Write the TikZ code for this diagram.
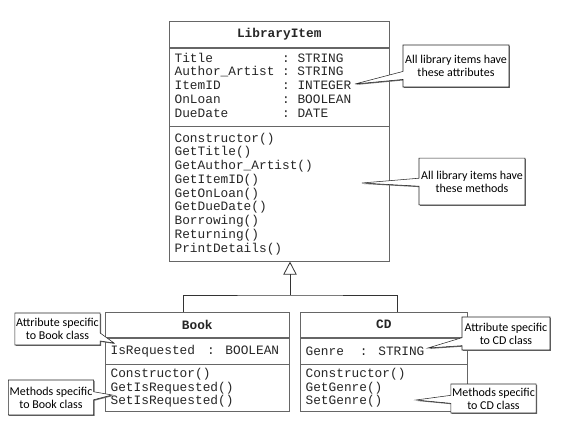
\documentclass[tikz,border=0pt]{standalone}
\usepackage{fontspec}
\setmonofont{Liberation Mono}
\newfontfamily\notefont{Carlito}
\usetikzlibrary{positioning,calc,arrows.meta,shapes.callouts,shadows}

\newcommand{\colgap}{\phantom{x}}

\begin{document}
\begin{tikzpicture}[x=0.75pt,y=-0.75pt,
  part/.style={draw=black!60,fill=white,inner xsep=4pt,inner ysep=0pt,align=left,
    text=black!85,font=\fontsize{9.6}{10.3}\selectfont\ttfamily},
  classname/.style={part,align=center,font=\fontsize{9.6}{10.3}\selectfont\ttfamily\bfseries},
  note/.style={rectangle callout,draw=black!85,fill=white,align=center,inner sep=1pt,
    callout pointer width=6pt,font=\fontsize{9}{9.8}\selectfont\notefont,
    drop shadow={shadow xshift=0.7pt,shadow yshift=-0.7pt,fill=black!60,opacity=1}},
  line/.style={draw=black!80,semithick}]
\useasboundingbox (0,0) rectangle (570,423);

% base class
\node[classname,text width=157pt,minimum height=19.5pt,anchor=north west] (itemname) at (169,21) {LibraryItem};
\node[part,text width=157pt,minimum height=58.5pt,below=0pt of itemname] (itemattr) {%
  \begin{tabular}{@{}l@{\colgap:\colgap}l@{}}
  Title & STRING\\
  Author\_Artist & STRING\\
  ItemID & INTEGER\\
  OnLoan & BOOLEAN\\
  DueDate & DATE
  \end{tabular}};
\node[part,text width=157pt,minimum height=101.25pt,below=0pt of itemattr] (itemmeth) {%
  Constructor()\\ GetTitle()\\ GetAuthor\_Artist()\\ GetItemID()\\ GetOnLoan()\\
  GetDueDate()\\ Borrowing()\\ Returning()\\ PrintDetails()};

% sub classes
\node[classname,text width=130pt,minimum height=18.75pt,anchor=north west] (bookname) at (105,312) {Book};
\node[part,text width=130pt,minimum height=19.5pt,below=0pt of bookname] (bookattr) {\mbox{IsRequested\hspace{9pt}:\hspace{8pt}BOOLEAN}};
\node[part,text width=130pt,minimum height=35.25pt,below=0pt of bookattr] (bookmeth) {%
  Constructor()\\ GetIsRequested()\\ SetIsRequested()};

\node[classname,text width=117.25pt,minimum height=18.75pt,anchor=north west] (cdname) at (300,312) {CD};
\node[part,text width=117.25pt,minimum height=19.5pt,below=0pt of cdname] (cdattr) {\mbox{Genre\hspace{12pt}:\hspace{8pt}STRING}};
\node[part,text width=117.25pt,minimum height=35.25pt,below=0pt of cdattr] (cdmeth) {%
  Constructor()\\ GetGenre()\\ SetGenre()};

% inheritance
\coordinate (join) at (290,295);
\path[line,-{Triangle[open,length=9.75pt,width=10pt]}] (join) -- (itemmeth.south -| join);
\path[line] ($(bookname.north)+(-14,0)$) |- (join) -| ($(cdname.north)+(14,0)$);

% notes
\coordinate (tipattr) at (355,84);
\coordinate (tipmeth) at (362,183);
\coordinate (tipbookattr) at (114,343);
\coordinate (tipbookmeth) at (112,395);
\coordinate (tipcdattr) at (428,348);
\coordinate (tipcdmeth) at (416,400);
\node[note,minimum width=79.5pt,minimum height=31.5pt,callout absolute pointer=(tipattr)] (noteattr) at (456,66) {All library items have\\ these attributes};
\node[note,minimum width=79.5pt,minimum height=35pt,callout absolute pointer=(tipmeth)] (notemeth) at (472,181.5) {All library items have\\ these methods};
\node[note,minimum width=63.75pt,minimum height=24pt,callout absolute pointer=(tipbookattr)] (notebookattr) at (57.5,329) {Attribute specific\\ to Book class};
\node[note,minimum width=61.5pt,minimum height=26.25pt,callout absolute pointer=(tipbookmeth)] (notebookmeth) at (51,397.5) {Methods specific\\ to Book class};
\node[note,minimum width=66pt,minimum height=24.75pt,callout absolute pointer=(tipcdattr)] (notecdattr) at (506,333.5) {Attribute specific\\ to CD class};
\node[note,minimum width=62.25pt,minimum height=21.75pt,callout absolute pointer=(tipcdmeth)] (notecdmeth) at (493.5,398.5) {Methods specific\\ to CD class};
\end{tikzpicture}
\end{document}
